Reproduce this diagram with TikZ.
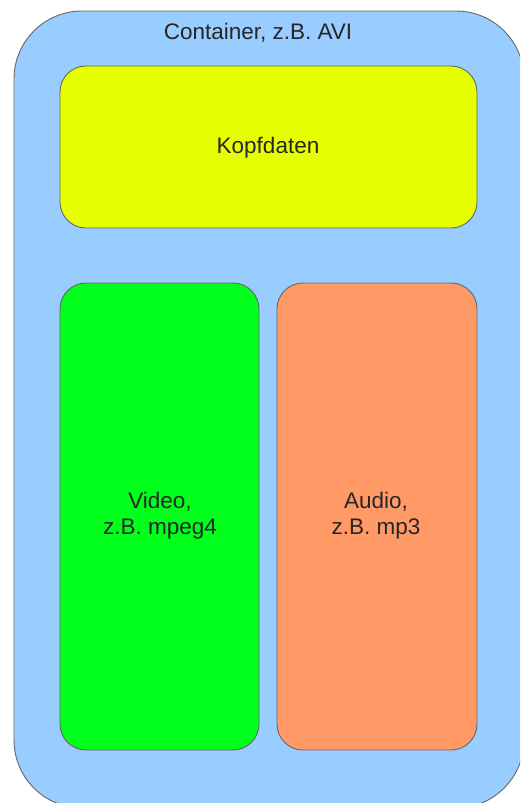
\documentclass[tikz,border=0pt]{standalone}
\usepackage{fontspec}
\setmainfont{Liberation Sans}
\definecolor{contblue}{HTML}{99CCFF}
\definecolor{headyellow}{HTML}{E5FF00}
\definecolor{vidgreen}{HTML}{00FF1A}
\definecolor{audorange}{HTML}{FF9966}
\definecolor{edge}{HTML}{666666}
\begin{document}
\begin{tikzpicture}[x=1pt,y=-1pt,
  part/.style={draw=edge, line width=0.9pt, rounded corners=26pt},
  lbl/.style={font=\fontsize{22.5}{26}\selectfont, align=center, text=black!85, inner sep=0pt}]
\useasboundingbox (0,0) rectangle (520,803);
\clip (0,0) rectangle (520,803);
% container
\draw[part, fill=contblue, rounded corners=68pt] (14,11) rectangle (524,808);
\node[lbl] (cont) at (258,33) {Container, z.B. AVI};
% header
\draw[part, fill=headyellow] (60,66) rectangle (477,228);
\node[lbl] (head) at (268,148) {Kopfdaten};
% video stream
\draw[part, fill=vidgreen] (60,283) rectangle (259,750);
\node[lbl] (video) at (160,516) {Video,\\z.B. mpeg4};
% audio stream
\draw[part, fill=audorange] (277,283) rectangle (477,750);
\node[lbl] (audio) at (376,516) {Audio,\\z.B. mp3};
\end{tikzpicture}
\end{document}
